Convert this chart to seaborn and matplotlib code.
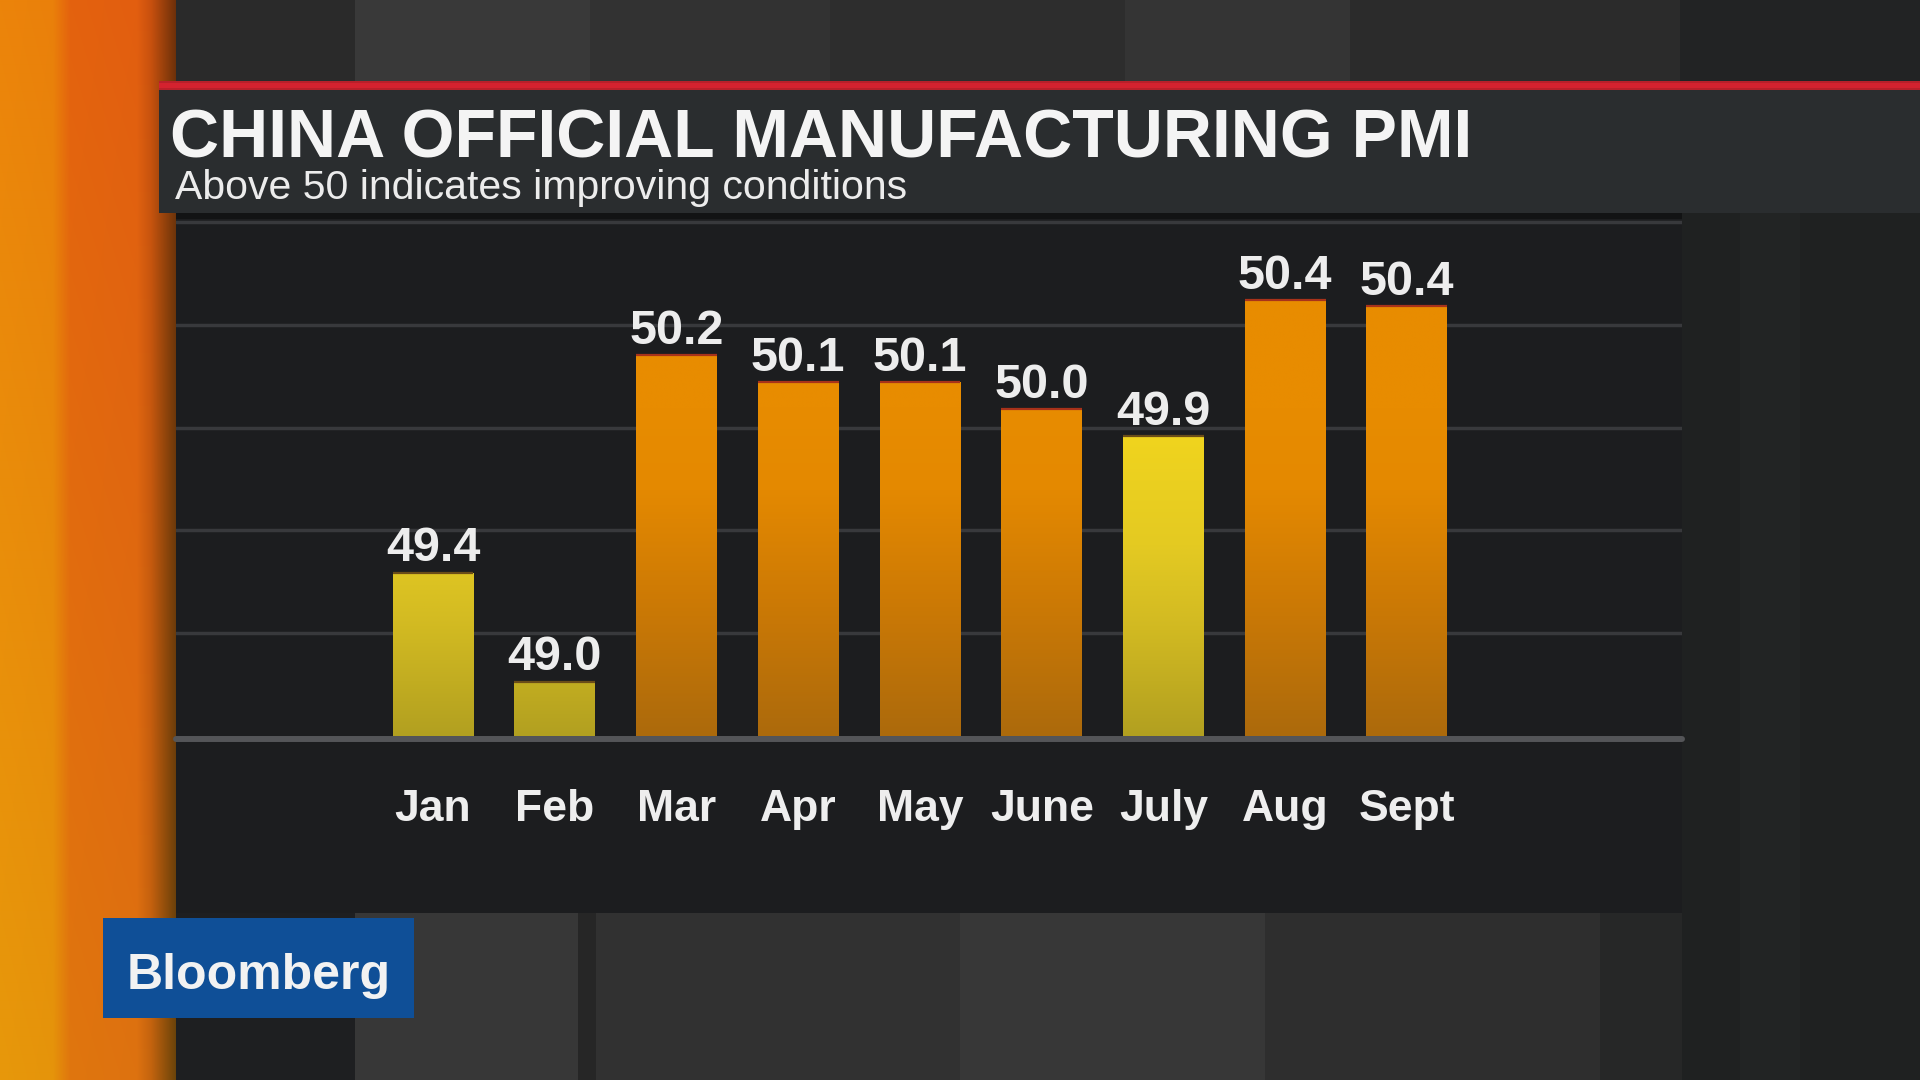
import numpy as np
import pandas as pd
import matplotlib
matplotlib.use("Agg")
import matplotlib.pyplot as plt
import seaborn as sns
from matplotlib.patches import Rectangle

# ---------------- data ----------------
months = ["Jan", "Feb", "Mar", "Apr", "May", "June", "July", "Aug", "Sept"]
pmi = [49.4, 49.0, 50.2, 50.1, 50.1, 50.0, 49.9, 50.4, 50.38]
threshold = 50.0
title = "CHINA OFFICIAL MANUFACTURING PMI"
subtitle = "Above 50 indicates improving conditions"
brand = "Bloomberg"

# ---------------- style ----------------
sns.set_theme(style="dark")
plt.rcParams["font.family"] = ["Liberation Sans", "DejaVu Sans"]

W, H = 1920, 1080
fig = plt.figure(figsize=(19.2, 10.8), dpi=100)
fig.patch.set_facecolor("#2a2a2a")

# background decoration axes in pixel coordinates
bg = fig.add_axes([0, 0, 1, 1], zorder=0)
bg.set_xlim(0, W)
bg.set_ylim(H, 0)
bg.axis("off")


def box(x0, y0, x1, y1, c, z=1, **kw):
    bg.add_patch(Rectangle((x0, y0), x1 - x0, y1 - y0, facecolor=c, lw=0, zorder=z, **kw))


# top stripes
top_stripes = [(176, 355, "#2a2a2a"), (355, 590, "#393939"), (590, 830, "#323232"),
               (830, 1125, "#2d2d2d"), (1125, 1350, "#343434"), (1350, 1680, "#2b2b2b"),
               (1680, 1920, "#222324")]
for x0, x1, c in top_stripes:
    box(x0, 0, x1, 90, c)

# right side
box(1682, 210, 1920, 1080, "#1f2121")
box(1740, 210, 1800, 1080, "#222424")

# bottom stripes
bot_stripes = [(176, 355, "#1e1f21"), (355, 578, "#373737"), (578, 596, "#262626"),
               (596, 960, "#313131"), (960, 1265, "#373737"), (1265, 1600, "#2e2e2e"),
               (1600, 1682, "#262727")]
for x0, x1, c in bot_stripes:
    box(x0, 905, x1, 1080, c)

# orange strip (horizontal gradient)
xs = np.linspace(0, 1, 176)
prof_x = [0.0, 0.30, 0.40, 0.78, 0.86, 1.0]
r = np.interp(xs, prof_x, [236, 234, 228, 226, 200, 110])
g = np.interp(xs, prof_x, [132, 128, 98, 94, 80, 48])
b = np.interp(xs, prof_x, [10, 10, 14, 16, 14, 10])
ys = np.linspace(0, 1, 120)[:, None]
rr = r[None, :] * (1 - 0.02 * ys)
gg = g[None, :] + 20 * ys
bb = b[None, :] * np.ones_like(ys)
strip = np.clip(np.stack([rr, gg, bb], axis=-1) / 255, 0, 1)
bg.imshow(strip, extent=(0, 176, H, 0), aspect="auto", zorder=1.5, interpolation="bilinear")

# red line & title panel
box(159, 81, W, 90, "#b8202a", z=3)
box(159, 83, W, 88, "#d4222f", z=3.1)
box(159, 90, W, 213, "#2a2d2f", z=3)

# chart panel
box(176, 213, 1682, 913, "#1c1d1f", z=3)
box(176, 213, 1682, 219, "#121314", z=3.1)

# logo
box(103, 918, 414, 1018, "#0f4f97", z=3)
bg.text(127, 989, brand, fontsize=36, fontweight="bold", color="#f2f2f2",
        va="baseline", ha="left", zorder=4)

# titles
bg.text(170, 157, title, fontsize=49, fontweight="bold", color="#f4f4f4",
        va="baseline", ha="left", zorder=4)
bg.text(175, 199, subtitle, fontsize=29.5, color="#ececec",
        va="baseline", ha="left", zorder=4)

bg.set_xlim(0, W)
bg.set_ylim(H, 0)

# ---------------- chart ----------------
ylo, yhi = 48.8, 50.72
ax = fig.add_axes([176 / W, 1 - 736 / H, (1682 - 176) / W, (736 - 213) / H], zorder=2)
ax.patch.set_alpha(0)

df = pd.DataFrame({"month": months, "pmi": pmi})
df["zone"] = np.where(df["pmi"] >= threshold, "above", "below")
sns.barplot(data=df, x="month", y="pmi", hue="zone", order=months,
            palette={"above": "#e68a00", "below": "#e6c81f"}, dodge=False,
            width=0.665, saturation=1, legend=False, ax=ax, zorder=2,
            linewidth=0, edgecolor="none")

yy = np.linspace(yhi, ylo, 256)


def grad(stops_v, stops_rgb):
    arr = np.stack([np.interp(yy, stops_v, [c[i] for c in stops_rgb]) for i in range(3)], axis=-1) / 255
    return arr[:, None, :]


orange = grad([48.8, 49.3, 49.7, 50.0], [(172, 106, 12), (205, 122, 5), (228, 137, 1), (232, 140, 0)])
yellow = grad([48.8, 49.2, 49.5, 49.9], [(178, 160, 32), (210, 186, 34), (228, 202, 34), (240, 212, 30)])

for p in list(ax.patches):
    p.set_linewidth(0)
    p.set_edgecolor("none")
    x0, w = p.get_x(), p.get_width()
    idx = int(round(x0 + w / 2))
    v = pmi[idx]
    above = v >= threshold
    img = ax.imshow(orange if above else yellow, extent=(x0, x0 + w, ylo, yhi),
                    aspect="auto", zorder=2.5, interpolation="bilinear")
    img.set_clip_path(p)
    ax.hlines(v, x0, x0 + w, color="#a8321a" if above else "#6a4c18", lw=1.6, zorder=3)
    ax.text(x0 + w / 2, v + 0.004, f"{v:.1f}", ha="center", va="bottom",
            fontsize=35, fontweight="bold", color="#ededed", zorder=4)

ax.set_xlim(-2.111, 10.259)
ax.set_ylim(ylo, yhi)

ax.set_yticks([ylo + k * 0.3774 for k in range(1, 6)])
ax.tick_params(axis="y", length=0, labelleft=False)
ax.grid(axis="y", color="#38393c", lw=2.5)
ax.grid(axis="x", visible=False)
ax.set_axisbelow(True)
for s in ax.spines.values():
    s.set_visible(False)
ax.axhline(ylo - 3 / 272.4, color="#545558", lw=4.3, clip_on=False, zorder=2.2)

ax.set_xlabel("")
ax.set_ylabel("")
ax.tick_params(axis="x", length=0, pad=38, labelsize=32, labelcolor="#eeeeee")
for t in ax.get_xticklabels():
    t.set_fontweight("bold")

fig.savefig("out.png", dpi=100, facecolor=fig.get_facecolor())
